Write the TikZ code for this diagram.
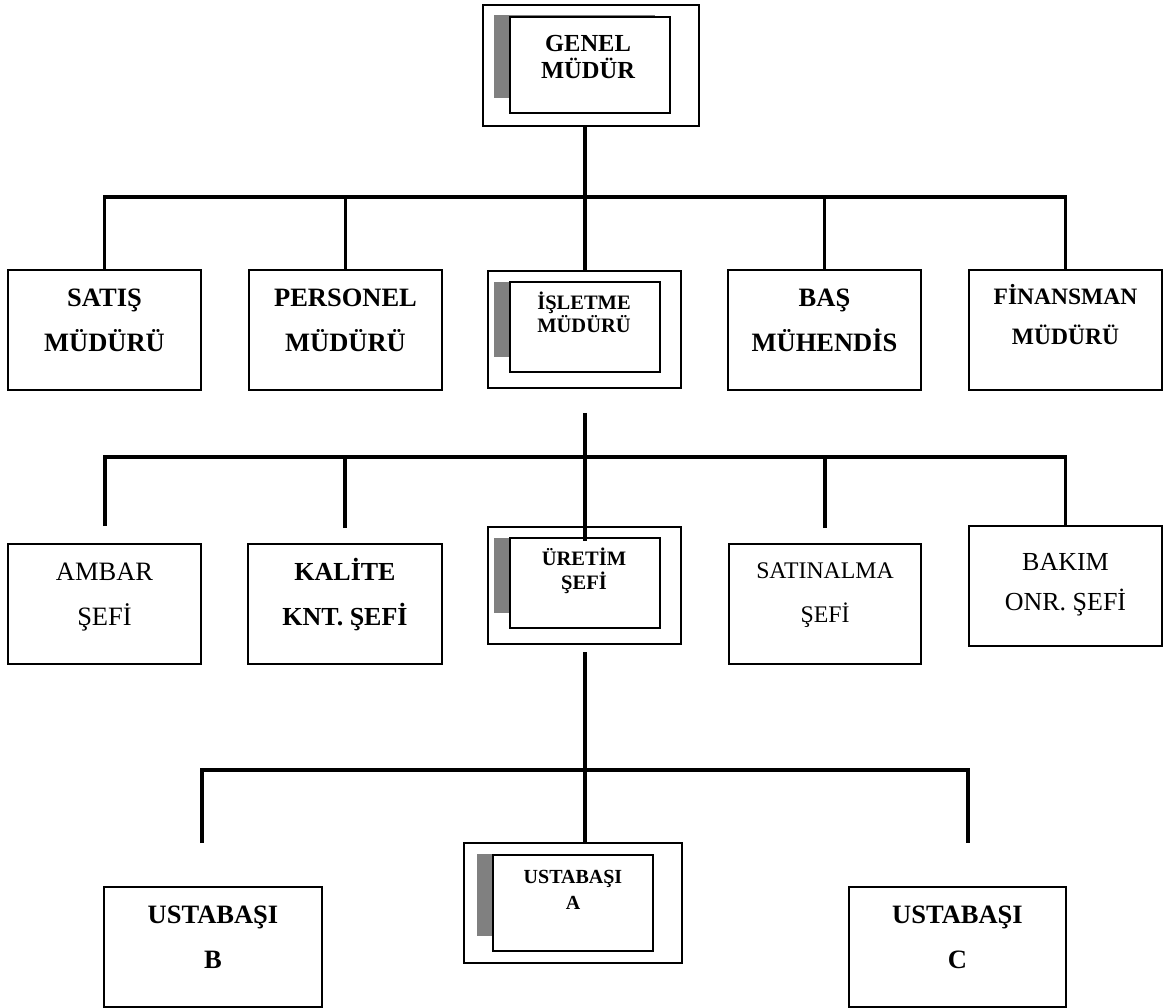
\documentclass[tikz,border=0pt]{standalone}
\usepackage{fontspec}
\setmainfont{Liberation Serif}
\usetikzlibrary{calc}

% box given by its corners: name, x1, y1, x2, y2, style
\newcommand\orgbox[6]{%
  \node[#6, minimum width={#4-#2}, minimum height={#5-#3}] (#1)
    at ({(#2+#4)/2},{(#3+#5)/2}) {};}
% two-line label: name, centre x, first baseline, font size, leading, weight, line 1, line 2
% (the base anchor of a two-line node sits on its last line)
\newcommand\orglabel[8]{%
  \node[anchor=base, align=center, inner sep=0pt,
        font=\fontsize{#4}{#5}\selectfont#6] (#1) at (#2,{#3+#5}) {#7\\#8};}

\tikzset{
  x=1pt, y=-1pt,
  unit/.style={draw=black, line width=1.4pt, fill=white, rectangle, inner sep=0pt, outer sep=0pt},
  inner unit/.style={draw=black, line width=1.1pt, fill=white, rectangle, inner sep=0pt, outer sep=0pt},
  shadow unit/.style={fill=black!50, draw=none, rectangle, inner sep=0pt, outer sep=0pt},
  conn/.style={line width=3.2pt, line join=miter}
}

\begin{document}
\begin{tikzpicture}
\useasboundingbox (0,0) rectangle (1163,1008);

% ---- Genel Müdür ----
\orgbox{genel-out}{483}{5}{699}{126}{unit}
\orgbox{genel-sh}{494}{15}{655}{98}{shadow unit}
\orgbox{genel-in}{510}{17}{670}{113}{inner unit}
\orglabel{genel-t}{588}{52}{24.5}{26.5}{\bfseries}{GENEL}{MÜDÜR}

% ---- second level ----
\orgbox{satis}{8}{270}{201}{390}{unit}
\orglabel{satis-t}{104.5}{307}{26.5}{45}{\bfseries}{SATIŞ}{MÜDÜRÜ}
\orgbox{personel}{249}{270}{442}{390}{unit}
\orglabel{personel-t}{345.5}{307}{26.5}{45}{\bfseries}{PERSONEL}{MÜDÜRÜ}
\orgbox{isl-out}{488}{271}{681}{388}{unit}
\orgbox{isl-sh}{494}{282}{650}{357}{shadow unit}
\orgbox{isl-in}{510}{282}{660}{372}{inner unit}
\orglabel{isl-t}{584}{310}{20.5}{23}{\bfseries}{İŞLETME}{MÜDÜRÜ}
\orgbox{bas}{728}{270}{921}{390}{unit}
\orglabel{bas-t}{824.5}{307}{26.5}{45}{\bfseries}{BAŞ}{MÜHENDİS}
\orgbox{finansman}{969}{270}{1162}{390}{unit}
\orglabel{finansman-t}{1065.5}{305}{23.5}{40}{\bfseries}{FİNANSMAN}{MÜDÜRÜ}

% ---- third level ----
\orgbox{ambar}{8}{544}{201}{664}{unit}
\orglabel{ambar-t}{104.5}{580}{26.5}{45}{}{AMBAR}{ŞEFİ}
\orgbox{kalite}{248}{544}{442}{664}{unit}
\orglabel{kalite-t}{345}{580}{26}{45}{\bfseries}{KALİTE}{KNT. ŞEFİ}
\orgbox{ure-out}{488}{527}{681}{644}{unit}
\orgbox{ure-sh}{494}{538}{650}{613}{shadow unit}
\orgbox{ure-in}{510}{538}{660}{628}{inner unit}
\orglabel{ure-t}{584}{565}{20.5}{24}{\bfseries}{ÜRETİM}{ŞEFİ}
\orgbox{satinalma}{729}{544}{921}{664}{unit}
\orglabel{satinalma-t}{825}{578}{23.8}{44}{}{SATINALMA}{ŞEFİ}
\orgbox{bakim}{969}{526}{1162}{646}{unit}
\orglabel{bakim-t}{1065.5}{570}{26}{40}{}{BAKIM}{ONR. ŞEFİ}

% ---- fourth level ----
\orgbox{ustaB}{104}{887}{322}{1007}{unit}
\orglabel{ustaB-t}{213}{923}{26.5}{45}{\bfseries}{USTABAŞI}{B}
\orgbox{ustaA-out}{464}{843}{682}{963}{unit}
\orgbox{ustaA-sh}{477}{854}{640}{936}{shadow unit}
\orgbox{ustaA-in}{493}{855}{653}{951}{inner unit}
\orglabel{ustaA-t}{573}{883}{20}{26}{\bfseries}{USTABAŞI}{A}
\orgbox{ustaC}{849}{887}{1066}{1007}{unit}
\orglabel{ustaC-t}{957.5}{923}{26.5}{45}{\bfseries}{USTABAŞI}{C}

% ---- connector points ----
\coordinate (bus1) at (585,197);
\coordinate (bus2) at (585,457);
\coordinate (bus3) at (585,770);
\coordinate (isl-drop) at (585,413);
\coordinate (ure-drop) at (585,652);
\coordinate (ambar-top) at (105,526);
\coordinate (kalite-top) at (345,528);
\coordinate (satinalma-top) at (825,528);
\coordinate (ustaB-top) at (202,843);
\coordinate (ustaC-top) at (968,843);

% ---- connectors: level 1 ----
\draw[conn] (bus1 |- genel-out.south) -- (bus1);
\draw[conn] (satis.north) |- (bus1) -| (finansman.north);
\draw[conn] (personel.north) -- (personel.north |- bus1);
\draw[conn] (bus1) -- (bus1 |- isl-out.north);
\draw[conn] (bas.north) -- (bas.north |- bus1);

% ---- connectors: level 2 ----
\draw[conn] (isl-drop) -- (bus2);
\draw[conn] (ambar-top) |- (bus2) -| (bakim.north);
\draw[conn] (kalite-top) -- (kalite-top |- bus2);
\draw[conn] (satinalma-top) -- (satinalma-top |- bus2);
\draw[conn] (bus2) -- ($(bus2 |- ure-in.north)+(0,3)$);

% ---- connectors: level 3 ----
\draw[conn] (ure-drop) -- (bus3);
\draw[conn] (ustaB-top) |- (bus3) -| (ustaC-top);
\draw[conn] (bus3) -- (bus3 |- ustaA-out.north);
\end{tikzpicture}
\end{document}
